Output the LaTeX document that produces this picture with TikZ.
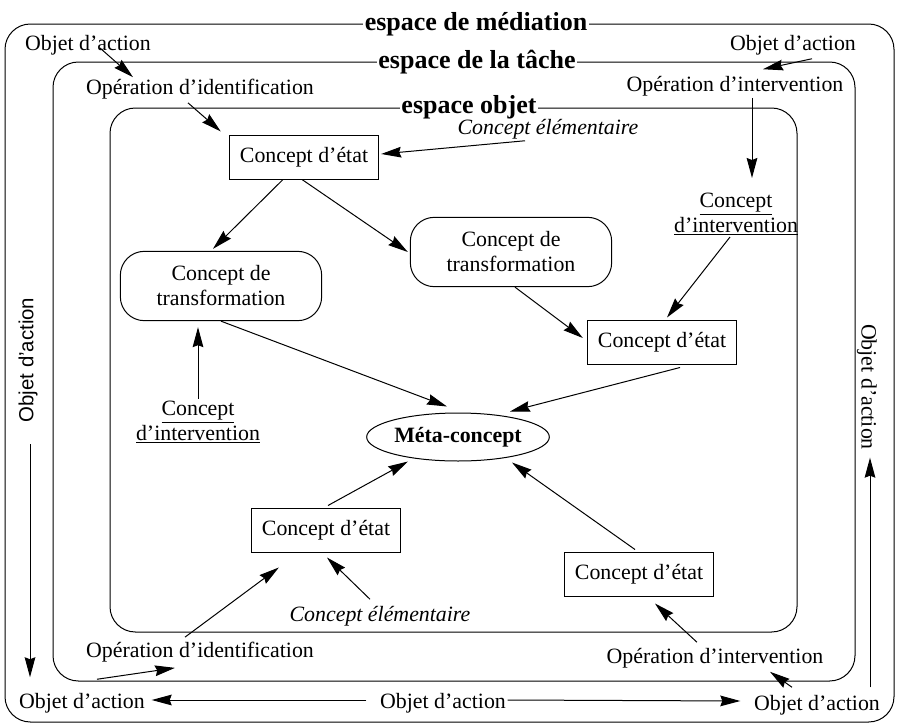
\documentclass[tikz,border=0pt]{standalone}
\usepackage{fontspec}
\setmainfont{Liberation Serif}
\setsansfont{Liberation Sans}
\usetikzlibrary{arrows.meta,calc,shapes.geometric}

\begin{document}
\begin{tikzpicture}[x=0.75pt,y=-0.75pt,line width=0.75pt,
  font=\fontsize{16.4}{18.75}\selectfont,
  arr/.style={-{Stealth[length=15pt,width=8pt,inset=1.5pt]}},
  zone/.style={rounded corners=19pt},
  title/.style={fill=white,inner sep=1pt,font=\fontsize{19.5}{22}\selectfont\bfseries},
  lbl/.style={inner sep=1pt,align=center},
  etat/.style={draw,minimum width=112pt,minimum height=33pt},
  trans/.style={draw,rounded corners=18pt,minimum width=151pt,minimum height=52pt,align=center},
  meta/.style={draw,ellipse,inner sep=0pt,minimum width=137pt,minimum height=36pt,font=\fontsize{16.4}{18.75}\selectfont\bfseries}]
\useasboundingbox (0,0) rectangle (897,725);
\draw[zone] (5,24) rectangle (894,722);
\draw[zone] (53,62) rectangle (855,681);
\draw[zone] (110,108) rectangle (797,632);
\node[title] (med) at (476,24) {espace de médiation};
\node[title] (tache) at (477,62) {espace de la tâche};
\node[title] (obj) at (469,107) {espace objet};

\node[lbl] (oa_tl) at (88,45) {Objet d'action};
\node[lbl] (oa_tr) at (793,45) {Objet d'action};
\node[lbl] (opid_t) at (200,89) {Opération d'identification};
\node[lbl] (opint_t) at (735,86) {Opération d'intervention};
\node[etat] (etat_t) at (304,157) {Concept d'état};
\node[lbl] (elem_t) at (548,129) {\textit{Concept élémentaire}};
\node[lbl] (ci_r) at (736,214) {\underline{Concept}\\\underline{d'intervention}};
\node[trans] (trans_l) at (221,286) {Concept de\\transformation};
\node[trans] (trans_r) at (511,252) {Concept de\\transformation};
\node[etat] (etat_r) at (662,342) {Concept d'état};
\node[lbl] (ci_l) at (198,422) {\underline{Concept}\\\underline{d'intervention}};
\node[meta] (meta) at (458,437) {Méta-concept};
\node[etat] (etat_bl) at (326,530) {Concept d'état};
\node[etat] (etat_br) at (639,574) {Concept d'état};
\node[lbl] (elem_b) at (380,616) {\textit{Concept élémentaire}};
\node[lbl] (opid_b) at (200,652) {Opération d'identification};
\node[lbl] (opint_b) at (715,658) {Opération d'intervention};
\node[lbl] (oa_bl) at (82,703) {Objet d'action};
\node[lbl] (oa_bc) at (443,703) {Objet d'action};
\node[lbl] (oa_br) at (817,705) {Objet d'action};
\node[lbl,rotate=90,font=\sffamily\fontsize{15.3}{18}\selectfont] (oa_l) at (28,360) {Objet d'action};
\node[lbl,rotate=-90] (oa_r) at (867,387) {Objet d'action};

\draw[arr] ($(oa_tl)+(12,3)$) -- ($(opid_t.north)+(-67,0)$);
\draw[arr] ($(opid_t.south)+(-12,2)$) -- ($(etat_t.north west)+(-8,-3)$);
\draw[arr] ($(elem_t.south)+(-23,0)$) -- ($(etat_t.east)+(2,-3)$);
\draw[arr] ($(oa_tr.south)+(19,2)$) -- ($(opint_t.north)+(28,-5)$);
\draw[arr] ($(opint_t.south)+(17,0)$) -- ($(ci_r.north)+(16,-13)$);
\draw[arr] ($(ci_r.south)+(-6,0)$) -- ($(etat_r.north)+(5,-2)$);
\draw[arr] ($(etat_t.south)+(-21,0)$) -- ($(trans_l.north)+(-8,-2)$);
\draw[arr] ($(etat_t.south)+(-2,0)$) -- ($(trans_r.west)+(-2,0)$);
\draw[arr] ($(trans_r.south)+(4,0)$) -- ($(etat_r.west)+(-4,-4)$);
\draw[arr] ($(etat_r.south)+(18,3)$) -- ($(meta.north)+(52,-1)$);
\draw[arr] (trans_l.south) -- ($(meta.north)+(-11,-6)$);
\draw[arr] (ci_l.north) -- ($(trans_l.south)+(-23,6)$);
\draw[arr] ($(etat_bl.north)+(2,-2)$) -- ($(meta.south)+(-50,0)$);
\draw[arr] ($(etat_br.north)+(-4,-2)$) -- ($(meta.south)+(54,1)$);
\draw[arr] ($(elem_b.north)+(-10,-5)$) -- ($(etat_bl.south)+(1,5)$);
\draw[arr] ($(opid_b.north)+(-15,-3)$) -- ($(etat_bl.south west)+(28,15)$);
\draw[arr] ($(oa_bl.north)+(15,-12)$) -- ($(opid_b.south)+(-25,4)$);
\draw[arr] ($(oa_bc.west)+(-12,-3)$) -- ($(oa_bl.east)+(5,-3)$);
\draw[arr] ($(oa_bc.east)+(0,-3)$) -- ($(oa_br.west)+(-12,-4)$);
\draw[arr] ($(oa_br.north)+(-25,-6)$) -- ($(opint_b.south)+(55,2)$);
\draw[arr] ($(opint_b.north)+(-18,-4)$) -- ($(etat_br.south)+(16,7)$);
\draw[arr] ($(oa_l.west)+(2,20)$) -- ($(oa_l.west |- oa_bl.north)+(2,-14)$);
\draw[arr] ($(oa_r.east |- oa_br.north)+(3,-6)$) -- ($(oa_r.east)+(3,6)$);
\end{tikzpicture}
\end{document}
